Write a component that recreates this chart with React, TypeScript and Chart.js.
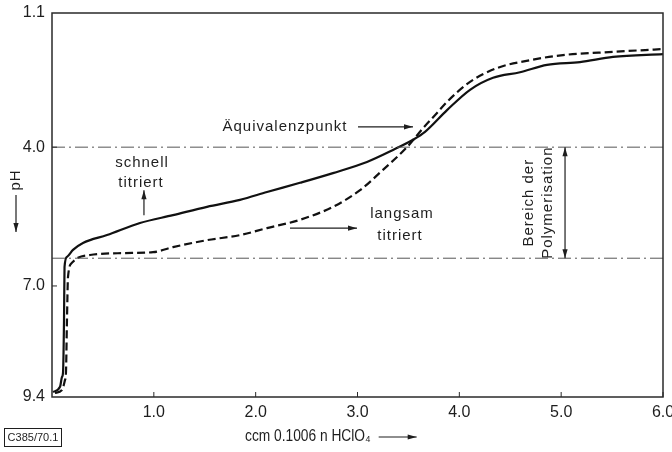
import React, { useEffect, useRef } from 'react';
import { Chart, registerables } from 'chart.js';

Chart.register(...registerables);

// ---- data (ccm 0.1006 n HClO4 vs pH) ----
const schnellX = [0.01, 0.079, 0.098, 0.108, 0.118, 0.123, 0.147, 0.206, 0.304, 0.54, 0.864, 1.188, 1.522, 1.846, 2.111, 2.435, 2.759, 3.093, 3.349, 3.545, 3.663, 3.879, 4.105, 4.331, 4.596, 4.861, 5.185, 5.509, 6.0];
const schnellPH = [9.29, 9.18, 8.97, 8.88, 7.74, 6.59, 6.37, 6.22, 6.07, 5.9, 5.64, 5.47, 5.29, 5.14, 4.97, 4.77, 4.56, 4.32, 4.06, 3.84, 3.67, 3.2, 2.76, 2.5, 2.38, 2.22, 2.16, 2.05, 1.99];
const langsamX = [0.029, 0.098, 0.128, 0.137, 0.147, 0.157, 0.196, 0.255, 0.373, 0.697, 0.992, 1.188, 1.522, 1.846, 2.111, 2.435, 2.759, 3.025, 3.25, 3.486, 3.643, 3.781, 3.879, 4.105, 4.37, 4.694, 5.018, 5.509, 6.0];
const langsamPH = [9.31, 9.25, 9.03, 8.88, 7.74, 6.81, 6.5, 6.39, 6.33, 6.29, 6.27, 6.16, 6.01, 5.9, 5.75, 5.57, 5.29, 4.93, 4.49, 4.0, 3.59, 3.26, 3.02, 2.59, 2.29, 2.12, 2.01, 1.94, 1.88];
const refLevels = [4.0, 6.4];
const yTickValues = [1.1, 4.0, 7.0, 9.4];
const yTickLabels = ['1.1', '4.0', '7.0', '9.4'];
const xTickValues = [1, 2, 3, 4, 5, 6];
const xTickLabels = ['1.0', '2.0', '3.0', '4.0', '5.0', '6.0'];

const FONT = "'Liberation Sans', Arial, sans-serif";
const INK = '#1e1e1e';

// annotation placement (data units)
const textNotes = [
  { text: 'schnell', x: 0.884, y: 4.34 },
  { text: 'titriert', x: 0.874, y: 4.77 },
  { text: 'langsam', x: 3.437, y: 5.44 },
  { text: 'titriert', x: 3.417, y: 5.92 },
  { text: 'Äquivalenzpunkt', x: 2.288, y: 3.56 },
];
const arrowNotes = [
  { x1: 0.903, y1: 5.47, x2: 0.903, y2: 4.93 },
  { x1: 2.337, y1: 5.75, x2: 2.995, y2: 5.75 },
  { x1: 3.005, y1: 3.56, x2: 3.545, y2: 3.56 },
];

function arrowHead(ctx: CanvasRenderingContext2D, x1: number, y1: number, x2: number, y2: number) {
  const ang = Math.atan2(y2 - y1, x2 - x1);
  const len = 9;
  const w = 2.6;
  ctx.beginPath();
  ctx.moveTo(x2, y2);
  ctx.lineTo(x2 - len * Math.cos(ang) + w * Math.sin(ang), y2 - len * Math.sin(ang) - w * Math.cos(ang));
  ctx.lineTo(x2 - len * Math.cos(ang) - w * Math.sin(ang), y2 - len * Math.sin(ang) + w * Math.cos(ang));
  ctx.closePath();
  ctx.fill();
}

function arrow(ctx: CanvasRenderingContext2D, x1: number, y1: number, x2: number, y2: number) {
  ctx.beginPath();
  ctx.moveTo(x1, y1);
  ctx.lineTo(x2, y2);
  ctx.stroke();
  arrowHead(ctx, x1, y1, x2, y2);
}

const annotPlugin = {
  id: 'annot',
  afterDatasetsDraw(chart: any) {
    const { ctx, chartArea: a } = chart;
    const xs = chart.scales.x;
    const ys = chart.scales.y;
    ctx.save();
    ctx.strokeStyle = '#2a2a2a';
    ctx.fillStyle = INK;
    ctx.lineWidth = 1.5;
    ctx.strokeRect(a.left, a.top, a.right - a.left, a.bottom - a.top);
    ctx.lineWidth = 1;
    xTickValues.forEach((v) => {
      const px = xs.getPixelForValue(v);
      ctx.beginPath();
      ctx.moveTo(px, a.bottom);
      ctx.lineTo(px, a.bottom - 5);
      ctx.stroke();
    });
    [4.0, 7.0].forEach((v) => {
      const py = ys.getPixelForValue(v);
      ctx.beginPath();
      ctx.moveTo(a.left, py);
      ctx.lineTo(a.left + 5, py);
      ctx.stroke();
    });

    // texts
    ctx.font = `15px ${FONT}`;
    (ctx as any).letterSpacing = '1px';
    ctx.textAlign = 'center';
    ctx.textBaseline = 'middle';
    textNotes.forEach((t) => {
      ctx.fillText(t.text, xs.getPixelForValue(t.x), ys.getPixelForValue(t.y));
    });
    ctx.lineWidth = 1.2;
    ctx.strokeStyle = INK;
    arrowNotes.forEach((r) => {
      arrow(ctx, xs.getPixelForValue(r.x1), ys.getPixelForValue(r.y1), xs.getPixelForValue(r.x2), ys.getPixelForValue(r.y2));
    });

    // double arrow for polymerisation range
    const dx = xs.getPixelForValue(5.038);
    const dy1 = ys.getPixelForValue(refLevels[0]);
    const dy2 = ys.getPixelForValue(refLevels[1]);
    ctx.beginPath();
    ctx.moveTo(dx, dy1);
    ctx.lineTo(dx, dy2);
    ctx.stroke();
    arrowHead(ctx, dx, dy2, dx, dy1);
    arrowHead(ctx, dx, dy1, dx, dy2);

    const midY = (dy1 + dy2) / 2;
    [
      { text: 'Bereich der', x: 4.68 },
      { text: 'Polymerisation', x: 4.865 },
    ].forEach((t) => {
      ctx.save();
      ctx.translate(xs.getPixelForValue(t.x), midY);
      ctx.rotate(-Math.PI / 2);
      ctx.fillText(t.text, 0, 0);
      ctx.restore();
    });

    // y axis title: pH with arrow
    ctx.save();
    ctx.translate(16, 180);
    ctx.rotate(-Math.PI / 2);
    ctx.fillText('pH', 0, 0);
    ctx.restore();
    ctx.lineWidth = 1.2;
    arrow(ctx, 16, 195, 16, 232);

    // x axis title (condensed)
    ctx.font = `16px ${FONT}`;
    (ctx as any).letterSpacing = '0px';
    ctx.textAlign = 'left';
    const title = 'ccm 0.1006 n HClO₄';
    const sx = 0.86;
    const tw = ctx.measureText(title).width * sx;
    ctx.save();
    ctx.translate(245, 437);
    ctx.scale(sx, 1);
    ctx.fillText(title, 0, 0);
    ctx.restore();
    arrow(ctx, 245 + tw + 8, 437, 245 + tw + 46, 437);

    // figure code box
    ctx.font = `11px ${FONT}`;
    ctx.textAlign = 'center';
    ctx.lineWidth = 1;
    ctx.strokeRect(4.5, 428.5, 57, 18);
    ctx.fillText('C385/70.1', 33, 438);
    ctx.restore();
  },
};

export default function App() {
  const ref = useRef<HTMLCanvasElement | null>(null);
  useEffect(() => {
    if (!ref.current) return;
    const refDatasets = refLevels.map((lvl) => ({
      data: [
        { x: 0, y: lvl },
        { x: 6, y: lvl },
      ],
      showLine: true,
      borderColor: '#555',
      borderWidth: 1,
      borderDash: [13, 4, 2, 4],
      pointRadius: 0,
    }));
    const chart = new Chart(ref.current, {
      type: 'scatter',
      data: {
        datasets: [
          ...refDatasets,
          {
            label: 'schnell titriert',
            data: schnellX.map((x, i) => ({ x, y: schnellPH[i] })),
            showLine: true,
            borderColor: '#111',
            borderWidth: 2.2,
            pointRadius: 0,
            cubicInterpolationMode: 'monotone',
          },
          {
            label: 'langsam titriert',
            data: langsamX.map((x, i) => ({ x, y: langsamPH[i] })),
            showLine: true,
            borderColor: '#111',
            borderWidth: 2.2,
            borderDash: [8, 4],
            pointRadius: 0,
            cubicInterpolationMode: 'monotone',
          },
        ] as any,
      },
      options: {
        responsive: false,
        animation: false,
        devicePixelRatio: 1,
        layout: { padding: { left: 0, top: 13, right: 9, bottom: 0 } },
        plugins: { legend: { display: false }, tooltip: { enabled: false } },
        scales: {
          x: {
            type: 'linear',
            min: 0,
            max: 6,
            grid: { display: false, drawTicks: false },
            border: { display: false },
            afterBuildTicks: (s: any) => {
              s.ticks = xTickValues.map((v) => ({ value: v }));
            },
            afterFit: (s: any) => {
              s.height = 55;
              s.paddingLeft = 0;
              s.paddingRight = 0;
            },
            ticks: {
              padding: 6,
              color: INK,
              font: { family: FONT, size: 16 },
              maxRotation: 0,
              callback: (v: any) => {
                const i = xTickValues.indexOf(Number(v));
                return i >= 0 ? xTickLabels[i] : '';
              },
            },
          },
          y: {
            type: 'linear',
            min: 1.1,
            max: 9.4,
            reverse: true,
            grid: { display: false, drawTicks: false },
            border: { display: false },
            afterBuildTicks: (s: any) => {
              s.ticks = yTickValues.map((v) => ({ value: v }));
            },
            afterFit: (s: any) => {
              s.width = 52;
              s.paddingTop = 0;
              s.paddingBottom = 0;
            },
            ticks: {
              padding: 7,
              color: INK,
              font: { family: FONT, size: 16 },
              callback: (v: any) => {
                const i = yTickValues.indexOf(Number(v));
                return i >= 0 ? yTickLabels[i] : '';
              },
            },
          },
        },
      },
      plugins: [annotPlugin],
    });
    return () => chart.destroy();
  }, []);
  return (
    <div style={{ position: 'absolute', left: 0, top: 0, width: 672, height: 452, background: '#fff' }}>
      <canvas ref={ref} width={672} height={452} />
    </div>
  );
}
